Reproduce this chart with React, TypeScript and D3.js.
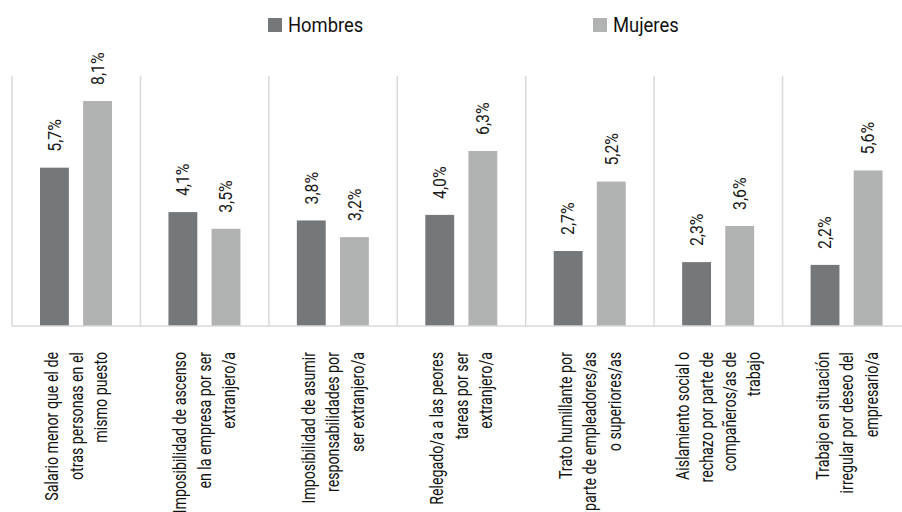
import React from "react";
import * as d3 from "d3";

const categories: string[][] = [
  ["Salario menor que el de", "otras personas en el", "mismo puesto"],
  ["Imposibilidad de ascenso", "en la empresa por ser", "extranjero/a"],
  ["Imposibilidad de asumir", "responsabilidades por", "ser extranjero/a"],
  ["Relegado/a a las peores", "tareas por ser", "extranjero/a"],
  ["Trato humillante por", "parte de empleadores/as", "o superiores/as"],
  ["Aislamiento social o", "rechazo por parte de", "compañeros/as de", "trabajo"],
  ["Trabajo en situación", "irregular por deseo del", "empresario/a"],
];
const hombres = [5.7, 4.1, 3.8, 4.0, 2.7, 2.3, 2.2];
const mujeres = [8.1, 3.5, 3.2, 6.3, 5.2, 3.6, 5.6];
const seriesNames = ["Hombres", "Mujeres"];
const colors = ["#75787b", "#b1b3b3"];

const W = 902;
const H = 512;
const FONT = "Roboto, 'Liberation Sans', sans-serif";
const SX = 0.79;

export default function App() {
  const idx = categories.map((_, i) => String(i));
  const x = d3.scaleBand<string>().domain(idx).range([12, 911]).paddingInner(0).paddingOuter(0);
  const y = d3.scaleLinear().domain([0, 9]).range([326, 76]);
  const inner = d3.scaleBand<string>().domain(seriesNames).range([28, 100]).paddingInner(0.33);
  const fmt = (v: number) => v.toFixed(1).replace(".", ",") + "%";
  const series = [hombres, mujeres];

  return (
    <svg width={W} height={H} style={{ position: "absolute", left: 0, top: 0, background: "#fff" }} fontFamily={FONT}>
      {/* separators */}
      {idx.map((d) => (
        <line key={"s" + d} x1={x(d)!} x2={x(d)!} y1={y(9)} y2={y(0)} stroke="#d9d9d9" strokeWidth={1.5} />
      ))}
      <line x1={x("6")! + x.bandwidth()} x2={x("6")! + x.bandwidth()} y1={y(9)} y2={y(0)} stroke="#d9d9d9" strokeWidth={1.5} />
      {/* bars */}
      {series.map((vals, si) =>
        vals.map((v, i) => {
          const bx = x(String(i))! + inner(seriesNames[si])!;
          const bw = inner.bandwidth();
          return (
            <g key={si + "-" + i}>
              <rect x={bx} y={y(v)} width={bw} height={y(0) - y(v)} fill={colors[si]} />
              <text
                transform={`translate(${bx + bw / 2},${y(v) - 16}) rotate(-90) scale(0.88,1)`}
                dy="0.35em"
                fontSize={18}
                fill="#1a1a1a"
              >
                {fmt(v)}
              </text>
            </g>
          );
        })
      )}
      {/* baseline */}
      <line x1={12} x2={W} y1={y(0)} y2={y(0)} stroke="#d9d9d9" strokeWidth={1.5} />
      {/* category labels */}
      {categories.map((lines, i) => {
        const cx = x(String(i))! + x.bandwidth() / 2;
        const n = lines.length;
        const lh = n > 3 ? 23.5 : 24.5;
        return (
          <g key={"c" + i}>
            {lines.map((ln, j) => (
              <text
                key={j}
                transform={`translate(${cx + (j - (n - 1) / 2) * lh},352) rotate(-90) scale(${SX},1)`}
                dy="0.35em"
                textAnchor="end"
                fontSize={18}
                fill="#111"
              >
                {ln}
              </text>
            ))}
          </g>
        );
      })}
      {/* legend */}
      {seriesNames.map((s, i) => {
        const lx = [268, 593][i];
        return (
          <g key={"l" + s}>
            <rect x={lx} y={18} width={14} height={14} fill={colors[i]} />
            <text transform={`translate(${lx + 20},25) scale(0.92,1)`} dy="0.35em" fontSize={20} fill="#111">
              {s}
            </text>
          </g>
        );
      })}
    </svg>
  );
}
